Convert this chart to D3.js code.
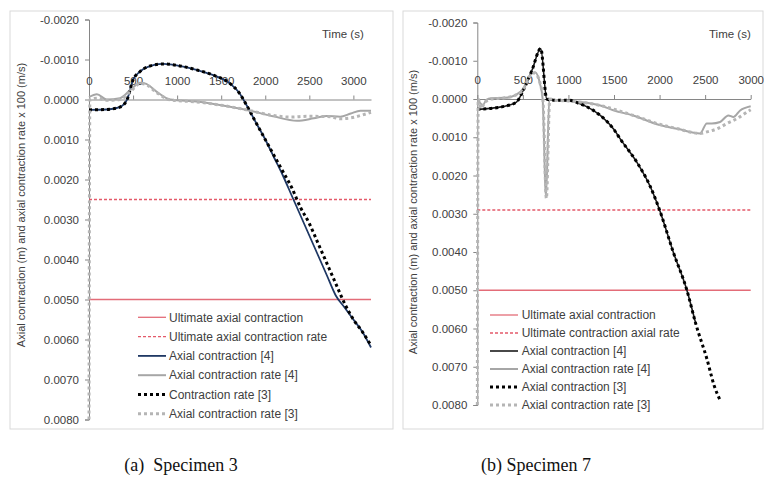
<!DOCTYPE html>
<html>
<head>
<meta charset="utf-8">
<script src="https://cdn.jsdelivr.net/npm/d3@7"></script>
<style>
  body { margin: 0; background: #fff; }
  svg { display: block; font-family: "Liberation Sans", Arial, sans-serif; }
  .tick text { fill: #404040; font-size: 11.5px; }
  .domain, .tick line { stroke: #868686; }
</style>
</head>
<body>
<div id="container"></div>
<script>
// ---- data ----
const timeTicks3 = [0, 500, 1000, 1500, 2000, 2500, 3000];
const timeTicks7 = [0, 500, 1000, 1500, 2000, 2500, 3000];
const valueTicks = [-0.002, -0.001, 0, 0.001, 0.002, 0.003, 0.004, 0.005, 0.006, 0.007, 0.008];

const yTitle3 = "Axial contraction (m) and axial contraction rate x 100 (m/s)";
const yTitle7 = "Axial contraction (m) and axial contraction rate  x 100 (m/s)";
const xTitle = "Time (s)";
const caption3 = "(a)  Specimen 3";
const caption7 = "(b) Specimen 7";

const legend3 = ["Ultimate axial contraction", "Ultimate axial contraction rate", "Axial contraction [4]",
                 "Axial contraction rate [4]", "Contraction rate [3]", "Axial contraction rate [3]"];
const legend7 = ["Ultimate axial contraction", "Ultimate contraction axial rate", "Axial contraction [4]",
                 "Axial contraction rate [4]", "Axial contraction [3]", "Axial contraction rate [3]"];

// limits (horizontal reference lines)
const ultimate3 = 0.005, ultimateRate3 = 0.0025;
const ultimate7 = 0.005, ultimateRate7 = 0.0029;

// Specimen 3 series [time, value]
const s3Axial4 = [[0,0.00026],[200,0.00025],[350,0.00019],[430,0.00001],[500,-0.00049],[580,-0.0007],[730,-0.00086],
  [845,-0.00089],[1030,-0.00084],[1220,-0.00074],[1410,-0.00061],[1600,-0.0004],[1700,-0.00018],[1790,0.00015],
  [1900,0.0006],[2000,0.001],[2100,0.00145],[2200,0.0019],[2300,0.0024],[2400,0.0029],[2500,0.0034],[2600,0.0039],
  [2700,0.0044],[2800,0.0049],[2900,0.0052],[3000,0.0055],[3100,0.0058],[3200,0.0062]];
const s3Rate4 = [[0,-0.00006],[90,-0.00013],[200,0],[350,-0.00003],[470,-0.00024],[580,-0.00042],[650,-0.00039],
  [770,-0.00019],[920,0],[1220,0.00005],[1600,0.00018],[1790,0.00026],[2090,0.00042],[2360,0.00053],[2550,0.00047],
  [2700,0.00041],[2850,0.00043],[2970,0.00035],[3080,0.00028],[3200,0.00028]];
const s3Contr3 = [[0,0.00026],[200,0.00025],[350,0.00019],[430,0.00001],[500,-0.00049],[580,-0.0007],[730,-0.00086],
  [845,-0.00089],[1030,-0.00084],[1220,-0.00074],[1410,-0.00061],[1600,-0.0004],[1700,-0.00018],[1790,0.00015],
  [1900,0.0006],[2000,0.001],[2100,0.0014],[2200,0.0018],[2300,0.0022],[2400,0.0027],[2500,0.0031],[2600,0.0036],
  [2700,0.0041],[2800,0.0046],[2900,0.0051],[3000,0.0055],[3100,0.0058],[3200,0.00615]];
const s3Rate3 = [[0,0.008],[10,0],[100,-0.00003],[200,0.00002],[350,0],[470,-0.0002],[580,-0.0004],[650,-0.00037],
  [770,-0.00017],[920,0.00001],[1220,0.00006],[1600,0.00018],[1790,0.00026],[2090,0.0004],[2300,0.00044],
  [2470,0.00042],[2740,0.00043],[2850,0.00048],[2970,0.00046],[3080,0.0004],[3200,0.00032]];

// Specimen 7 series [time, value]
const s7Axial4 = [[0,0.00027],[280,0.0002],[430,0.00008],[505,-0.00023],[600,-0.00075],[696,-0.00132],[762,0],
  [835,0.00003],[1000,0.00003],[1100,0.0001],[1200,0.0002],[1350,0.00043],[1500,0.0008],[1570,0.00105],
  [1750,0.00165],[1900,0.0023],[2000,0.0029],[2150,0.004],[2300,0.005],[2400,0.0059]];
const s7Rate4 = [[0,0],[30,0.0001],[60,0.00016],[100,0.00002],[150,-0.00002],[300,-0.00003],[420,-0.0001],
  [505,-0.00027],[578,-0.00062],[633,-0.0007],[688,-0.0004],[717,0],[754,0.00256],[790,0],[850,0.00003],
  [1000,0.00005],[1100,0.00007],[1350,0.00017],[1500,0.0003],[1710,0.00043],[2000,0.00068],[2200,0.00078],
  [2445,0.0009],[2518,0.00064],[2573,0.00064],[2664,0.0006],[2755,0.00043],[2810,0.00047],[2884,0.0003],[3000,0.00019]];
const s7Axial3 = [[0,0.00027],[280,0.0002],[430,0.00008],[505,-0.00023],[600,-0.00075],[696,-0.00132],[762,0],
  [835,0.00003],[1000,0.00003],[1100,0.0001],[1200,0.0002],[1350,0.00043],[1500,0.0008],[1570,0.00105],
  [1750,0.00165],[1900,0.0023],[2000,0.0029],[2150,0.004],[2300,0.005],[2400,0.0059],[2520,0.0068],
  [2600,0.0075],[2670,0.0079]];
const s7Rate3 = [[0,0.008],[10,0],[40,0.00025],[80,0.0001],[150,0],[300,-0.00003],[420,-0.0001],[505,-0.00025],
  [578,-0.0006],[630,-0.00068],[690,-0.0004],[720,0],[758,0.0026],[795,0],[850,0.00003],[1000,0.00005],
  [1350,0.00017],[1700,0.00042],[2000,0.00066],[2200,0.00078],[2445,0.0009],[2520,0.00086],[2630,0.00078],
  [2740,0.00064],[2850,0.00051],[2960,0.00034],[3000,0.00028]];

// ---- drawing ----
const w = 764, h = 477;
const svg = d3.select("#container").append("svg").attr("width", w).attr("height", h);
svg.append("rect").attr("width", w).attr("height", h).attr("fill", "#fff");

const styles = {
  ult:      { stroke: "#e36c78", width: 1.3, dash: null },
  ultRate:  { stroke: "#e35a6a", width: 1.4, dash: "3,2" },
  axial4:   { stroke: "#1f3864", width: 1.8, dash: null },
  rate4:    { stroke: "#a6a6a6", width: 2, dash: null },
  black4:   { stroke: "#1a1a1a", width: 1.6, dash: null },
  dotBlack: { stroke: "#000", width: 3, dash: "3,3" },
  dotGray:  { stroke: "#b5b5b5", width: 3, dash: "3,3" }
};

function drawPanel(p) {
  const g = svg.append("g");
  g.append("rect")
    .attr("x", p.frame[0]).attr("y", p.frame[1])
    .attr("width", p.frame[2]).attr("height", p.frame[3])
    .attr("fill", "#fff").attr("stroke", "#d9d9d9").attr("stroke-width", 1);

  const x = d3.scaleLinear().domain(p.xDomain).range(p.xRange);
  const y = d3.scaleLinear().domain([valueTicks[0], valueTicks[valueTicks.length - 1]]).range(p.yRange);

  const clipId = "clip" + p.id;
  g.append("clipPath").attr("id", clipId).append("rect")
    .attr("x", p.xRange[0] - 2).attr("y", p.yRange[0])
    .attr("width", p.xRange[1] - p.xRange[0] + 4).attr("height", p.yRange[1] - p.yRange[0]);

  g.append("g")
    .attr("transform", "translate(" + p.xRange[0] + ",0)")
    .call(d3.axisLeft(y).tickValues(valueTicks).tickSize(4).tickPadding(6).tickFormat(d => d.toFixed(4)));

  g.append("g")
    .attr("transform", "translate(0," + y(0) + ")")
    .call(d3.axisTop(x).tickValues(p.xTicks).tickSize(4).tickPadding(11).tickSizeOuter(0)
      .tickFormat(d3.format("d")));

  const plot = g.append("g").attr("clip-path", "url(#" + clipId + ")");

  // horizontal limits
  [[p.ult, styles.ult], [p.ultRate, styles.ultRate]].forEach(([v, s]) => {
    plot.append("line")
      .attr("x1", p.xRange[0]).attr("x2", p.xRange[1])
      .attr("y1", y(v)).attr("y2", y(v))
      .attr("stroke", s.stroke).attr("stroke-width", s.width)
      .attr("stroke-dasharray", s.dash);
  });

  const line = d3.line().x(d => x(d[0])).y(d => y(d[1])).curve(d3.curveMonotoneX);
  p.series.forEach(([data, s]) => {
    plot.append("path")
      .datum(data)
      .attr("d", line)
      .attr("fill", "none")
      .attr("stroke", s.stroke).attr("stroke-width", s.width)
      .attr("stroke-dasharray", s.dash)
      .attr("stroke-linejoin", "round");
  });

  g.append("text")
    .attr("x", p.timeLabel[0]).attr("y", p.timeLabel[1])
    .attr("font-size", 11.5).attr("fill", "#404040")
    .text(xTitle);

  g.append("text")
    .attr("transform", "translate(" + p.yTitle[0] + "," + p.yTitle[1] + ") rotate(-90)")
    .attr("text-anchor", "middle").attr("dy", "0.35em")
    .attr("font-size", 11).attr("fill", "#404040")
    .text(p.yTitleText);

  // legend
  const legStyles = [styles.ult, styles.ultRate, p.series[0][1], p.series[1][1], p.series[2][1], p.series[3][1]];
  const leg = g.append("g");
  p.legendText.forEach((t, i) => {
    const yy = p.legend[2] + i * p.legend[3];
    const s = legStyles[i];
    leg.append("line")
      .attr("x1", p.legend[0]).attr("x2", p.legend[0] + 28)
      .attr("y1", yy).attr("y2", yy)
      .attr("stroke", s.stroke).attr("stroke-width", s.width)
      .attr("stroke-dasharray", s.dash);
    leg.append("text")
      .attr("x", p.legend[1]).attr("y", yy).attr("dy", "0.35em")
      .attr("font-size", 12).attr("fill", "#404040")
      .text(t);
  });

  svg.append("text")
    .attr("x", p.caption[0]).attr("y", p.caption[1])
    .attr("text-anchor", "middle")
    .attr("font-family", "'Liberation Serif', 'Times New Roman', serif")
    .attr("font-size", 18).attr("fill", "#111")
    .attr("xml:space", "preserve").style("white-space", "pre")
    .text(p.captionText);
}

drawPanel({
  id: 3, frame: [10, 11, 383, 418],
  xDomain: [0, 3200], xRange: [89, 371], yRange: [19.5, 419.5], xTicks: timeTicks3,
  ult: ultimate3, ultRate: ultimateRate3,
  series: [[s3Axial4, styles.axial4], [s3Rate4, styles.rate4], [s3Contr3, styles.dotBlack], [s3Rate3, styles.dotGray]],
  timeLabel: [322, 38], yTitle: [21, 205], yTitleText: yTitle3,
  legend: [138, 169, 317.3, 19.3], legendText: legend3,
  caption: [181, 471], captionText: caption3
});

drawPanel({
  id: 7, frame: [403, 11, 360, 418],
  xDomain: [0, 3000], xRange: [477.3, 750.7], yRange: [22.5, 405], xTicks: timeTicks7,
  ult: ultimate7, ultRate: ultimateRate7,
  series: [[s7Axial4, styles.black4], [s7Rate4, styles.rate4], [s7Axial3, styles.dotBlack], [s7Rate3, styles.dotGray]],
  timeLabel: [709, 38], yTitle: [413, 212], yTitleText: yTitle7,
  legend: [490, 521.7, 315, 18], legendText: legend7,
  caption: [536, 471], captionText: caption7
});
</script>
</body>
</html>
